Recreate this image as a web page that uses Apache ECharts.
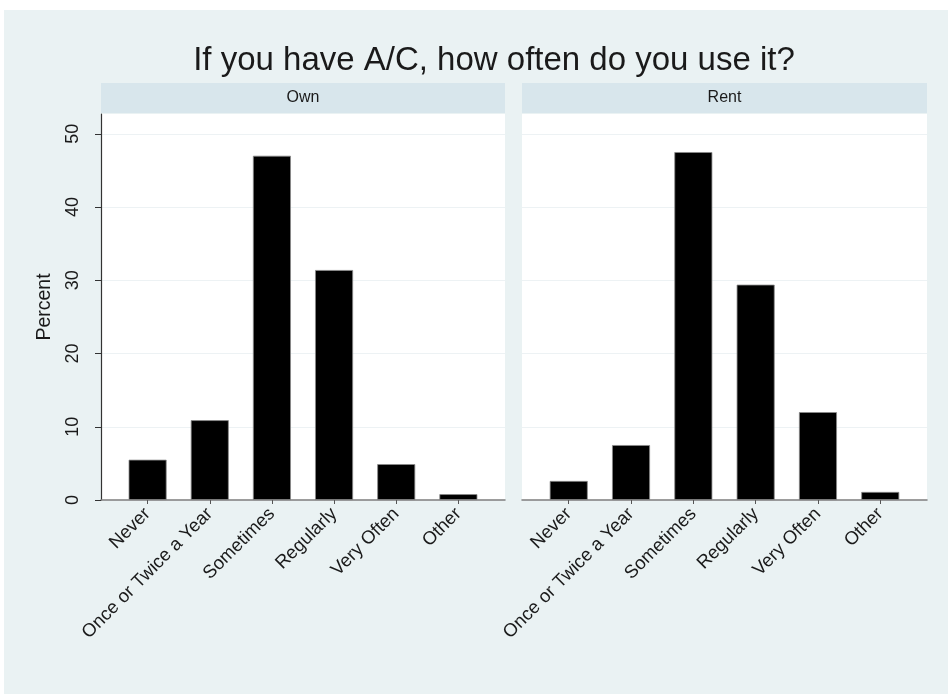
<!DOCTYPE html>
<html>
<head>
<meta charset="utf-8">
<script src="https://cdn.jsdelivr.net/npm/echarts@6/dist/echarts.min.js"></script>
<style>
  html, body { margin: 0; padding: 0; background: #ffffff; }
  #wrap { width: 948px; height: 694px; position: relative; background: #ffffff; overflow: hidden; }
  #chart { position: absolute; left: 4px; top: 10px; width: 944px; height: 684px; }
</style>
</head>
<body>
<div id="wrap"><div id="chart"></div></div>
<script>
const titleText = 'If you have A/C, how often do you use it?';
const categories = ['Never', 'Once or Twice a Year', 'Sometimes', 'Regularly', 'Very Often', 'Other'];
const panelNames = ['Own', 'Rent'];
const ownValues = [5.5, 10.9, 47.0, 31.4, 4.9, 0.8];
const rentValues = [2.6, 7.5, 47.5, 29.4, 12.0, 1.1];
const yTicks = [0, 10, 20, 30, 40, 50];
const yAxisName = 'Percent';

const FONT = '"Liberation Sans", Arial, Helvetica, sans-serif';
const BG = '#EAF2F3';
const STRIP = '#D8E6EC';
const GRIDLINE = '#EDF2F4';

const panels = [
  { left: 97, top: 104, width: 404, height: 386 },
  { left: 518, top: 104, width: 405, height: 386 }
];
const catIdx = categories.map((c, i) => i);

const chart = echarts.init(document.getElementById('chart'), null, { renderer: 'canvas' });

const grids = panels.map(p => ({
  left: p.left, top: p.top, width: p.width, height: p.height,
  show: true, backgroundColor: '#ffffff', borderWidth: 0, containLabel: false
}));

const xAxes = panels.map((p, k) => ({
  type: 'value', gridIndex: k, min: -0.75, max: 5.75,
  axisLine: { show: true, onZero: false, lineStyle: { color: '#7d7d7d', width: 1.5 } },
  axisTick: { show: true, length: 4, customValues: catIdx, lineStyle: { color: '#555' } },
  splitLine: { show: false },
  axisLabel: {
    customValues: catIdx, rotate: 45, margin: 11,
    fontFamily: FONT, fontSize: 18.5, color: '#1a1a1a',
    formatter: v => categories[Math.round(v)]
  }
}));

const yAxes = panels.map((p, k) => ({
  type: 'value', gridIndex: k, min: 0, max: 52.7,
  name: k === 0 ? yAxisName : '', nameLocation: 'middle', nameRotate: 90, nameGap: 46,
  nameTextStyle: { fontFamily: FONT, fontSize: 19.5, color: '#1a1a1a' },
  axisLine: { show: k === 0, onZero: false, lineStyle: { color: '#333', width: 1.2 } },
  axisTick: { show: k === 0, length: 6, customValues: yTicks, lineStyle: { color: '#333' } },
  axisLabel: {
    show: k === 0, customValues: yTicks, rotate: 90, margin: 19,
    fontFamily: FONT, fontSize: 18, color: '#1a1a1a'
  },
  splitLine: { show: true, lineStyle: { color: GRIDLINE, width: 1.2 } }
}));

const seriesData = [ownValues, rentValues];
const series = seriesData.map((vals, k) => ({
  type: 'bar', xAxisIndex: k, yAxisIndex: k, barWidth: 38,
  data: vals.map((v, i) => [catIdx[i], v]),
  itemStyle: { color: '#000000', borderColor: '#8a8a8a', borderWidth: 0.8 },
  silent: true
}));

const graphics = [];
panels.forEach((p, k) => {
  graphics.push({
    type: 'rect', shape: { x: p.left, y: p.top - 31, width: p.width, height: 30 },
    style: { fill: STRIP }, silent: true
  });
  graphics.push({
    type: 'text', x: p.left + p.width / 2, y: p.top - 16,
    style: { text: panelNames[k], fill: '#1a1a1a', font: '16px ' + FONT, textAlign: 'center', textVerticalAlign: 'middle' },
    silent: true
  });
});

chart.setOption({
  backgroundColor: BG,
  animation: false,
  title: {
    text: titleText, left: 485, top: 29, textAlign: 'center',
    textStyle: { fontFamily: FONT, fontSize: 33, fontWeight: 'normal', color: '#1a1a1a' }
  },
  grid: grids,
  xAxis: xAxes,
  yAxis: yAxes,
  series: series,
  graphic: graphics
});
</script>
</body>
</html>
